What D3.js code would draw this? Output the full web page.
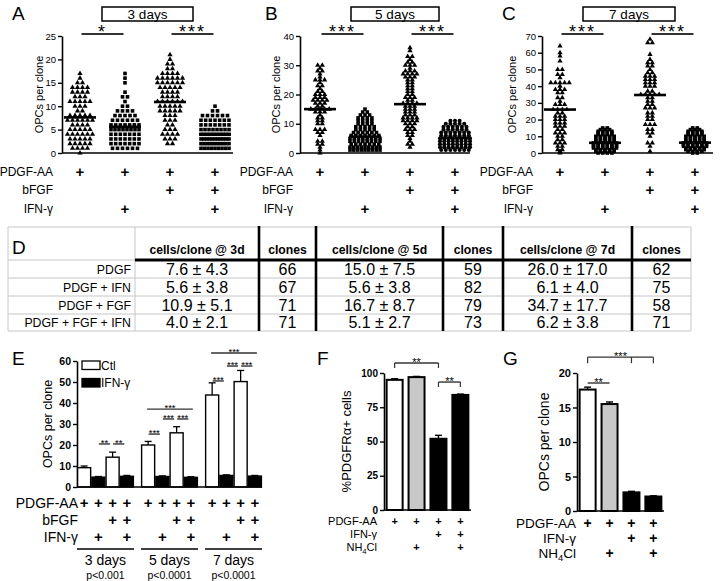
<!DOCTYPE html>
<html><head><meta charset="utf-8">
<script src="https://cdn.jsdelivr.net/npm/d3@7"></script>
<style>
body{margin:0;background:#fff}
svg{display:block}
text{font-family:"Liberation Sans",Arial,sans-serif;fill:#000}
</style></head><body>
<svg id="fig" width="720" height="581"></svg>
<script>
// ================= DATA =================
const conditions = ["PDGF", "PDGF + IFN", "PDGF + FGF", "PDGF + FGF + IFN"];
const treatRows = ["PDGF-AA", "bFGF", "IFN-γ"];
const treatPlus = [[1,1,1,1],[0,0,1,1],[0,1,0,1]];
const dayLabels = ["3 days", "5 days", "7 days"];
const pValues = ["p<0.001", "p<0.0001", "p<0.0001"];

const A_PDGF = [[0,1],[1,4],[2,5],[3,5],[4,6],[5,5],[6,4],[7,6],[8,5],[9,2],[10,3],[11,5],[12,3],[13,4],[14,4],[15,2],[16,1],[17,1]];
const A_PDGF_IFN = [[1,6],[2,7],[3,7],[4,7],[5,8],[6,7],[7,6],[8,5],[9,4],[10,2],[11,1],[12,2],[13,1],[15,1],[16,1],[17,1]];
const A_PDGF_FGF = [[2,2],[3,3],[4,4],[5,3],[6,2],[7,3],[8,3],[9,5],[10,5],[11,6],[12,4],[13,4],[14,5],[15,6],[16,6],[17,4],[18,2],[19,2],[20,1],[21,1]];
const A_PDGF_FGF_IFN = [[1,9],[2,10],[3,11],[4,10],[5,8],[6,7],[7,7],[8,6],[9,2],[10,1]];

const B_PDGF = [[0,1],[1,1],[2,1],[3,2],[4,2],[6,1],[7,2],[8,3],[10,2],[11,2],[12,2],[13,1],[14,3],[15,5],[16,2],[17,3],[18,4],[19,3],[20,3],[21,2],[22,1],[23,2],[24,1],[25,3],[26,1],[27,1],[28,2],[29,1],[30,2]];
const B_PDGF_IFN = [[1,9],[2,9],[3,7],[4,8],[5,8],[6,7],[7,6],[8,5],[9,5],[10,4],[11,4],[12,4],[13,3],[14,2],[15,1]];
const B_PDGF_FGF = [[2,1],[3,2],[4,1],[5,1],[6,2],[7,2],[8,3],[9,2],[10,3],[11,4],[12,4],[13,3],[14,3],[15,3],[16,3],[17,4],[18,2],[19,3],[20,2],[21,2],[22,2],[23,2],[24,2],[25,2],[26,3],[27,4],[28,3],[29,1],[30,3],[31,2],[32,1],[33,2],[35,1],[36,1]];
const B_PDGF_FGF_IFN = [[1,7],[2,8],[3,8],[4,8],[5,8],[6,7],[7,7],[8,6],[9,6],[10,5],[11,3]];

const C_PDGF = [[0,1],[1,1],[2,2],[4,2],[6,3],[8,2],[10,2],[12,3],[14,2],[16,3],[18,3],[20,3],[22,3],[24,2],[26,4],[29,3],[31,1],[33,2],[36,2],[38,3],[40,1],[42,5],[45,1],[47,2],[50,2],[55,1],[58,1],[60,1],[64,1]];
const C_PDGF_IFN = [[0,4],[1,5],[2,5],[3,6],[4,6],[5,6],[6,6],[7,5],[8,5],[9,5],[10,5],[11,4],[12,4],[13,4],[14,3],[15,2]];
const C_PDGF_FGF = [[1,1],[4,1],[6,2],[10,1],[12,2],[14,2],[17,3],[20,2],[22,2],[24,2],[27,3],[29,2],[31,2],[33,2],[35,5],[37,2],[40,3],[42,3],[44,3],[46,3],[48,2],[50,1],[52,2],[54,2],[56,1],[59,1],[66,2],[68,1]];
const C_PDGF_FGF_IFN = [[0,2],[1,4],[2,5],[3,5],[4,6],[5,6],[6,6],[7,5],[8,5],[9,5],[10,5],[11,4],[12,4],[13,4],[14,3],[15,2]];

// table D
const tableHeaders = ["cells/clone @ 3d", "clones", "cells/clone @ 5d", "clones", "cells/clone @ 7d", "clones"];
const mean3d = [7.6, 5.6, 10.9, 4.0], sd3d = [4.3, 3.8, 5.1, 2.1], n3d = [66, 67, 71, 71];
const mean5d = [15.0, 5.6, 16.7, 5.1], sd5d = [7.5, 3.8, 8.7, 2.7], n5d = [59, 82, 79, 73];
const mean7d = [26.0, 6.1, 34.7, 6.2], sd7d = [17.0, 4.0, 17.7, 3.8], n7d = [62, 75, 58, 71];

// panel E: mean and SEM per day for the four conditions
const E_mean = [[9.2, 4.7, 14.2, 5.1], [20.0, 5.0, 25.8, 4.6], [43.8, 5.5, 50.2, 5.2]];
const E_err  = [[0.8, 0.3, 2.4, 0.4], [1.7, 0.3, 2.9, 0.3], [5.8, 0.3, 5.3, 0.3]];
const E_legend = ["Ctl", "IFN-γ"];

// panels F and G
const FG_rows = ["PDGF-AA", "IFN-γ", "NH4Cl"];
const FG_plus = [[1,1,1,1],[0,0,1,1],[0,1,0,1]];
const F_vals = [95, 97, 52, 84], F_err = [0.8, 0.5, 2.5, 0.6];
const G_vals = [17.6, 15.5, 2.7, 2.1], G_err = [0.35, 0.3, 0.15, 0.1];
const FG_fills = ["#ffffff", "#c8c8c8", "#000000", "#000000"];

// ================= DRAWING =================
const svg = d3.select("#fig");

function styleAxis(sel, fs, fw) {
  sel.attr("font-family", null).attr("font-size", null);
  sel.select(".domain").attr("stroke", "#000").attr("stroke-width", 1.6);
  sel.selectAll(".tick line").attr("stroke", "#000").attr("stroke-width", 1.4);
  sel.selectAll(".tick text").attr("font-size", fs).attr("font-weight", fw).attr("fill", "#000");
}
function label(t, x, y, fs) {
  svg.append("text").attr("x", x).attr("y", y).attr("font-size", fs).text(t);
}
function rowText(g, t, x, y, fs) {
  const tx = g.append("text").attr("x", x).attr("y", y).attr("text-anchor", "end").attr("font-size", fs);
  if (t === "NH4Cl") {
    tx.append("tspan").text("NH");
    tx.append("tspan").attr("font-size", fs * 0.7).attr("dy", fs * 0.25).text("4");
    tx.append("tspan").attr("dy", -fs * 0.25).text("Cl");
  } else tx.text(t);
}
function plusRows(g, rows, matrix, xs, ys, lx, fsL, fsP) {
  rows.forEach((r, ri) => {
    rowText(g, r, lx, ys[ri] + fsL * 0.36, fsL);
    matrix[ri].forEach((on, ci) => {
      if (on) g.append("text").attr("x", xs[ci]).attr("y", ys[ri] + fsP * 0.36)
        .attr("text-anchor", "middle").attr("font-weight", "bold").attr("font-size", fsP).text("+");
    });
  });
}
function sigLine(g, x1, x2, y, s, fs, drop, mids) {
  g.append("line").attr("x1", x1).attr("x2", x2).attr("y1", y).attr("y2", y)
    .attr("stroke", "#333").attr("stroke-width", fs > 12 ? 2 : 1.4);
  if (drop) {
    [x1, x2].concat(mids || []).forEach(xx => g.append("line").attr("x1", xx).attr("x2", xx)
      .attr("y1", y).attr("y2", y + drop).attr("stroke", "#333").attr("stroke-width", 1.2));
  }
  g.append("text").attr("x", (x1 + x2) / 2).attr("y", y + fs * 0.2 + 0.5)
    .attr("text-anchor", "middle").attr("font-size", fs).attr("letter-spacing", fs > 12 ? 2 : 0).text(s);
}

// ---------- scatter panels A, B, C ----------
function scatter(cfg) {
  const g = svg.append("g");
  const x = d3.scalePoint().domain(conditions).range([cfg.gx0, cfg.gx1]);
  const y = d3.scaleLinear().domain([0, cfg.ymax]).range([153, 36]);
  const ax = g.append("g").attr("transform", `translate(${cfg.ax},0)`)
    .call(d3.axisLeft(y).tickValues(cfg.ticks).tickSize(4).tickSizeOuter(0).tickPadding(2));
  styleAxis(ax, 9.5, "normal");
  g.append("line").attr("x1", cfg.ax).attr("x2", cfg.xEnd).attr("y1", y(0)).attr("y2", y(0))
    .attr("stroke", "#000").attr("stroke-width", 1.6);
  g.append("text").attr("transform", `translate(${cfg.titleX},${(y(0) + y(cfg.ymax)) / 2}) rotate(-90)`)
    .attr("text-anchor", "middle").attr("dominant-baseline", "central").attr("font-size", 11).text("OPCs per clone");
  cfg.data.forEach((dist, gi) => {
    const cx = x(conditions[gi]);
    const shp = cfg.shapes[gi];
    const sym = d3.symbol().type(shp === "tri" ? d3.symbolTriangle : shp === "circ" ? d3.symbolCircle : d3.symbolSquare)
      .size(shp === "tri" ? 12 : 13);
    const pts = [];
    dist.forEach(([v, c]) => {
      const sp = c > 1 ? Math.min(cfg.dx, cfg.wmax / (c - 1)) : 0;
      for (let i = 0; i < c; i++) pts.push([cx + (i - (c - 1) / 2) * sp, y(v)]);
    });
    g.selectAll(null).data(pts).enter().append("path").attr("d", sym)
      .attr("transform", d => `translate(${d[0]},${d[1]})`).attr("fill", "#000");
    g.append("line").attr("x1", cx - 16).attr("x2", cx + 16)
      .attr("y1", y(cfg.means[gi])).attr("y2", y(cfg.means[gi])).attr("stroke", "#000").attr("stroke-width", 2.6);
  });
  // day box
  g.append("rect").attr("x", cfg.box[0]).attr("y", 7).attr("width", cfg.box[1] - cfg.box[0]).attr("height", 14)
    .attr("fill", "#fff").attr("stroke", "#000").attr("stroke-width", 1.5);
  g.append("text").attr("x", (cfg.box[0] + cfg.box[1]) / 2).attr("y", 19).attr("text-anchor", "middle")
    .attr("font-size", 13.5).text(cfg.boxText);
  cfg.sig.forEach(([a, b, s]) => sigLine(g, x(conditions[a]) + 1.5, x(conditions[b]) - 1.5, 34, s, 18, 0));
  plusRows(g, treatRows, treatPlus, conditions.map(c => x(c)), [172, 190, 209], cfg.rowX, 12, 15);
  label(cfg.label, cfg.lx, 20, 19);
}
scatter({label: "A", lx: 12, ax: 62, gx0: 80, gx1: 215, xEnd: 233, ymax: 25, ticks: [0,5,10,15,20,25],
  data: [A_PDGF, A_PDGF_IFN, A_PDGF_FGF, A_PDGF_FGF_IFN], means: mean3d, shapes: ["tri","sq","tri","sq"],
  dx: 5, wmax: 28, titleX: 38.5, rowX: 53, box: [102, 193], boxText: dayLabels[0], sig: [[0,1,"*"],[2,3,"***"]]});
scatter({label: "B", lx: 265, ax: 300, gx0: 320, gx1: 455, xEnd: 470, ymax: 40, ticks: [0,10,20,30,40],
  data: [B_PDGF, B_PDGF_IFN, B_PDGF_FGF, B_PDGF_FGF_IFN], means: mean5d, shapes: ["tri","sq","tri","circ"],
  dx: 4.6, wmax: 30, titleX: 276, rowX: 293, box: [351, 439], boxText: dayLabels[1], sig: [[0,1,"***"],[2,3,"***"]]});
scatter({label: "C", lx: 502, ax: 542, gx0: 560, gx1: 695, xEnd: 713, ymax: 70, ticks: [0,10,20,30,40,50,60,70],
  data: [C_PDGF, C_PDGF_IFN, C_PDGF_FGF, C_PDGF_FGF_IFN], means: mean7d, shapes: ["tri","sq","tri","sq"],
  dx: 4.6, wmax: 28, titleX: 512, rowX: 533, box: [583, 675], boxText: dayLabels[2], sig: [[0,1,"***"],[2,3,"***"]]});

// ---------- table D ----------
(function () {
  const g = svg.append("g");
  const colX = [8, 135, 259, 316, 443, 503, 632, 691];
  const rowY = [227, 260, 278, 296, 314, 331];
  const fmt = d3.format(".1f");
  const cells = conditions.map((c, i) => [
    `${fmt(mean3d[i])} ± ${fmt(sd3d[i])}`, n3d[i],
    `${fmt(mean5d[i])} ± ${fmt(sd5d[i])}`, n5d[i],
    `${fmt(mean7d[i])} ± ${fmt(sd7d[i])}`, n7d[i]]);
  const grey = "#c6c6c6";
  rowY.forEach((yy, i) => { if (i !== 1) g.append("line").attr("x1", colX[0]).attr("x2", colX[7]).attr("y1", yy).attr("y2", yy).attr("stroke", grey); });
  g.append("line").attr("x1", colX[0]).attr("x2", colX[1]).attr("y1", rowY[1]).attr("y2", rowY[1]).attr("stroke", grey);
  [0, 1, 7].forEach(ci => g.append("line").attr("x1", colX[ci]).attr("x2", colX[ci]).attr("y1", rowY[0]).attr("y2", rowY[5]).attr("stroke", grey));
  [2, 3, 4, 5, 6].forEach(ci => g.append("line").attr("x1", colX[ci]).attr("x2", colX[ci]).attr("y1", rowY[0] - 1).attr("y2", rowY[5]).attr("stroke", "#000").attr("stroke-width", 2.6));
  g.append("line").attr("x1", colX[1]).attr("x2", colX[7]).attr("y1", rowY[1]).attr("y2", rowY[1]).attr("stroke", "#000").attr("stroke-width", 2.8);
  tableHeaders.forEach((h, i) => g.append("text").attr("x", (colX[i + 1] + colX[i + 2]) / 2).attr("y", 254)
    .attr("text-anchor", "middle").attr("font-family", "'DejaVu Sans',Verdana,sans-serif").attr("font-weight", "bold").attr("font-size", 12.2).text(h));
  conditions.forEach((c, r) => {
    const cy = (rowY[r + 1] + rowY[r + 2]) / 2;
    g.append("text").attr("x", colX[1] - 4).attr("y", cy + 4.5).attr("text-anchor", "end")
      .attr("font-family", "'DejaVu Sans',Verdana,sans-serif").attr("font-size", 12.3).text(c);
    cells[r].forEach((v, i) => g.append("text").attr("x", (colX[i + 1] + colX[i + 2]) / 2).attr("y", cy + 5.8)
      .attr("text-anchor", "middle").attr("font-family", "'DejaVu Sans',Verdana,sans-serif").attr("font-size", 16).attr("fill", "#111").text(v));
  });
  g.append("text").attr("x", 12).attr("y", 254).attr("font-family", "'DejaVu Sans',Verdana,sans-serif").attr("font-size", 19).text("D");
})();

// ---------- panel E ----------
(function () {
  const g = svg.append("g");
  const xE = d3.scaleBand().domain(dayLabels).range([77, 262]).paddingInner(0.11).paddingOuter(0);
  const xi = d3.scaleBand().domain(d3.range(4)).range([0, xE.bandwidth()]).padding(0);
  const y = d3.scaleLinear().domain([0, 60]).range([487, 361]);
  const ax = g.append("g").attr("transform", "translate(77,0)")
    .call(d3.axisLeft(y).tickValues([0,10,20,30,40,50,60]).tickSize(4).tickSizeOuter(0).tickPadding(2));
  styleAxis(ax, 10.5, "bold");
  const xc = (d, i) => xE(dayLabels[d]) + xi(i) + xi.bandwidth() / 2;
  dayLabels.forEach((day, d) => {
    E_mean[d].forEach((v, i) => {
      const x0 = xE(day) + xi(i), cx = xc(d, i);
      g.append("line").attr("x1", cx).attr("x2", cx).attr("y1", y(v)).attr("y2", y(v + E_err[d][i])).attr("stroke", "#000").attr("stroke-width", 1.3);
      g.append("line").attr("x1", cx - 3.5).attr("x2", cx + 3.5).attr("y1", y(v + E_err[d][i])).attr("y2", y(v + E_err[d][i])).attr("stroke", "#000").attr("stroke-width", 1.3);
      g.append("rect").attr("x", x0 + 0.6).attr("y", y(v)).attr("width", xi.bandwidth() - 1.2).attr("height", y(0) - y(v))
        .attr("fill", i % 2 ? "#000" : "#fff").attr("stroke", "#000").attr("stroke-width", 1.4);
    });
    g.append("line").attr("x1", xE(day)).attr("x2", xE(day) + xE.bandwidth()).attr("y1", 549).attr("y2", 549).attr("stroke", "#000").attr("stroke-width", 1.4);
    g.append("text").attr("x", xE(day) + xE.bandwidth() / 2).attr("y", 565).attr("text-anchor", "middle").attr("font-size", 14).text(day);
    g.append("text").attr("x", xE(day) + xE.bandwidth() / 2).attr("y", 579).attr("text-anchor", "middle").attr("font-size", 10.5).text(pValues[d]);
  });
  g.append("line").attr("x1", 77).attr("x2", 262).attr("y1", y(0)).attr("y2", y(0)).attr("stroke", "#000").attr("stroke-width", 1.6);
  // significance: [day, bar a, bar b, level, stars]
  const sig = [[0,1,2,20.5,"**"],[0,2,3,20.5,"**"],
    [1,0,1,25.2,"***"],[1,1,2,32.4,"***"],[1,2,3,32.4,"***"],[1,0,3,37.1,"***"],
    [2,0,1,50.5,"***"],[2,1,2,57.6,"***"],[2,2,3,57.6,"***"],[2,0,3,63.8,"***"]];
  sig.forEach(([d, a, b, lv, s]) => {
    const adj = b - a === 1;
    sigLine(g, xc(d, a) + (adj ? 0.5 : -1), xc(d, b) + (adj ? -2.5 : 2), y(lv), s, 9.5, 0);
  });
  // legend
  E_legend.forEach((t, i) => {
    g.append("rect").attr("x", 82).attr("y", 361 + i * 17.5).attr("width", 18).attr("height", 8.5)
      .attr("fill", i ? "#000" : "#fff").attr("stroke", "#000").attr("stroke-width", 1.3);
    g.append("text").attr("x", 101).attr("y", 369.5 + i * 17.5).attr("font-size", 12).text(t);
  });
  g.append("text").attr("transform", `translate(48,${(y(0) + y(60)) / 2}) rotate(-90)`)
    .attr("text-anchor", "middle").attr("dominant-baseline", "central").attr("font-size", 12.5).text("OPCs per clone");
  const xs = [];
  dayLabels.forEach((day, d) => d3.range(4).forEach(i => xs.push(xc(d, i))));
  plusRows(g, treatRows, treatPlus.map(r => r.concat(r, r)), xs, [503, 520, 537], 78, 14, 15);
  label("E", 12, 365, 19);
})();

// ---------- panels F, G ----------
function smallBars(cfg) {
  const g = svg.append("g");
  const x = d3.scaleBand().domain(d3.range(4)).range([cfg.ax, cfg.xEnd]).paddingInner(0.27).paddingOuter(0.12);
  const y = d3.scaleLinear().domain([0, cfg.ymax]).range([cfg.y0, cfg.y1]);
  const ax = g.append("g").attr("transform", `translate(${cfg.ax},0)`)
    .call(d3.axisLeft(y).tickValues(cfg.ticks).tickSize(4).tickSizeOuter(0).tickPadding(2));
  styleAxis(ax, cfg.tfs, "bold");
  const xc = i => x(i) + x.bandwidth() / 2;
  cfg.vals.forEach((v, i) => {
    const top = y(v + cfg.err[i]);
    g.append("line").attr("x1", xc(i)).attr("x2", xc(i)).attr("y1", y(v)).attr("y2", top).attr("stroke", "#000").attr("stroke-width", 1.4);
    g.append("line").attr("x1", xc(i) - 3.5).attr("x2", xc(i) + 3.5).attr("y1", top).attr("y2", top).attr("stroke", "#000").attr("stroke-width", 1.4);
    g.append("rect").attr("x", x(i)).attr("y", y(v)).attr("width", x.bandwidth()).attr("height", y(0) - y(v))
      .attr("fill", FG_fills[i]).attr("stroke", "#000").attr("stroke-width", 2);
  });
  g.append("line").attr("x1", cfg.ax).attr("x2", cfg.xEnd).attr("y1", y(0)).attr("y2", y(0)).attr("stroke", "#000").attr("stroke-width", 1.6);
  g.append("text").attr("transform", `translate(${cfg.titleX},${(y(0) + y(cfg.ymax)) / 2}) rotate(-90)`)
    .attr("text-anchor", "middle").attr("dominant-baseline", "central").attr("font-size", cfg.titleFs).text(cfg.title);
  cfg.sig.forEach(([a, b, lv, s, drop, mids]) =>
    sigLine(g, xc(a), xc(b), y(lv), s, 11, drop, (mids || []).map(m => xc(m))));
  plusRows(g, FG_rows, FG_plus, d3.range(4).map(xc), cfg.rowY, cfg.rowX, cfg.rowFs, cfg.plusFs);
  label(cfg.label, cfg.lx, 365, 19);
}
smallBars({label: "F", lx: 317, ax: 384, xEnd: 471, y0: 510, y1: 373, ymax: 100, ticks: [0,25,50,75,100], tfs: 10,
  vals: F_vals, err: F_err, title: "%PDGFRα+ cells", titleX: 346, titleFs: 13,
  sig: [[0,2,107.3,"**",5],[2,3,93.4,"**",5]], rowY: [521,534,547], rowX: 377, rowFs: 11, plusFs: 11});
smallBars({label: "G", lx: 503, ax: 577, xEnd: 664, y0: 511, y1: 373, ymax: 20, ticks: [0,5,10,15,20], tfs: 11,
  vals: G_vals, err: G_err, title: "OPCs per clone", titleX: 544, titleFs: 14,
  sig: [[0,1,18.55,"**",0],[0,3,22.3,"***",6,[2]]], rowY: [523,538,553], rowX: 576, rowFs: 13.5, plusFs: 14});
</script>
</body></html>
